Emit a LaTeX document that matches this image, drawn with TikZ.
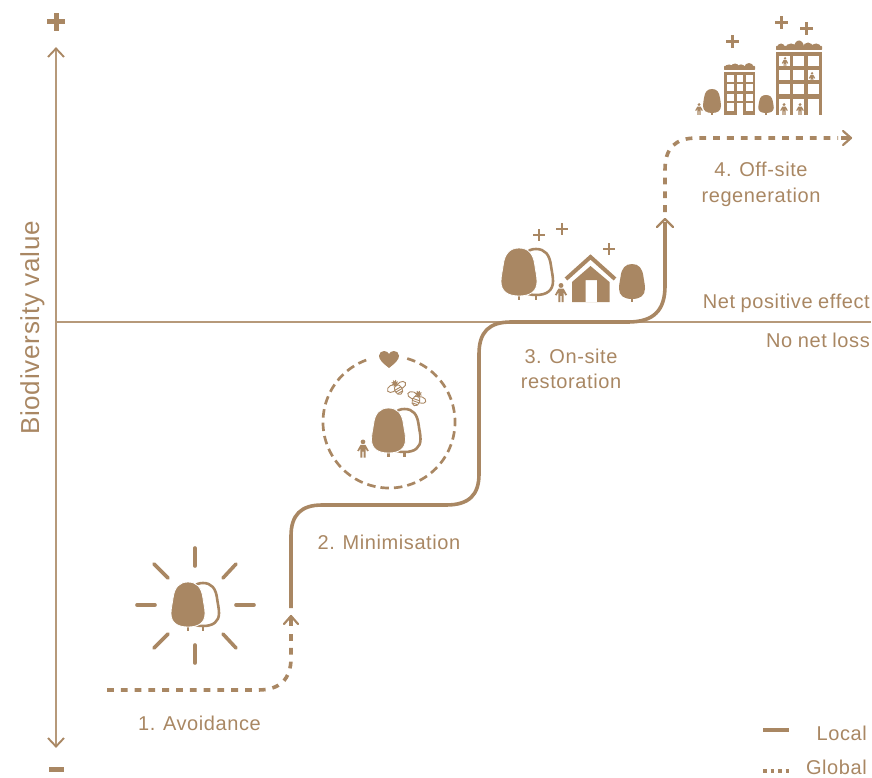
\documentclass[tikz,border=0pt]{standalone}
\usepackage{fontspec}
\setmainfont[LetterSpace=3,WordSpace=0.9]{Liberation Sans}
\definecolor{brand}{HTML}{A98763}
\newcommand{\treepath}{(0,0) .. controls (.26,0) and (.4,.12) .. (.44,.36) .. controls (.46,.48) and (.5,.58) .. (.5,.7) .. controls (.5,.9) and (.32,1) .. (0,1) .. controls (-.32,1) and (-.5,.9) .. (-.5,.7) .. controls (-.5,.58) and (-.46,.48) .. (-.44,.36) .. controls (-.4,.12) and (-.26,0) .. (0,0) -- cycle}
% #1 x centre, #2 top y, #3 width, #4 height, #5 trunk length
\newcommand{\solidtree}[5]{%
  \fill[brand] (#1-1.1,#2+#4-2) rectangle (#1+1.1,#2+#4+#5);
  \fill[brand,shift={(#1,#2)},xscale=#3,yscale=#4] \treepath;}
% pair of trees: front x, top y, width, height, offset
\newcommand{\treepair}[5]{%
  \fill[brand] (#1+#5-1.3,#2+#4-2) rectangle (#1+#5+1.3,#2+#4+4);
  \fill[brand] (#1-1.3,#2+#4-2) rectangle (#1+1.3,#2+#4+4);
  \draw[brand,line width=2.6pt,fill=white] [shift={(#1+#5,#2+1)},xscale=#3-2,yscale=#4-2] \treepath;
  \filldraw[brand,draw=white,line width=.8pt,shift={(#1,#2)},xscale=#3,yscale=#4] \treepath;}
% person: x, top y, height
\newcommand{\person}[3]{%
  \begin{scope}[shift={(#1,#2)},scale=#3]
  \fill[brand] (0,.13) circle[radius=.13];
  \fill[brand] (-.14,.3) -- (.14,.3) -- (.32,.62) -- (.23,.66) -- (.14,.48) -- (.14,1) -- (.03,1) -- (.03,.68) -- (-.03,.68) -- (-.03,1) -- (-.14,1) -- (-.14,.48) -- (-.23,.66) -- (-.32,.62) -- cycle;
  \end{scope}}
% plus: x, y, half-size, width
\newcommand{\plusmark}[4]{%
  \fill[brand] (#1-#3,#2-#4/2) rectangle (#1+#3,#2+#4/2);
  \fill[brand] (#1-#4/2,#2-#3) rectangle (#1+#4/2,#2+#3);}
\newcommand{\beeicon}[3]{%
  \begin{scope}[shift={(#1,#2)},rotate=#3,scale=1.1]
  \draw[brand,line width=.9pt,fill=white] (-4.6,-1) ellipse[x radius=4.6,y radius=3.1];
  \draw[brand,line width=.9pt,fill=white] (4.2,.4) ellipse[x radius=4.4,y radius=2.9];
  \draw[brand,line width=.9pt,fill=white] (0,2.8) ellipse[x radius=3.5,y radius=4.6];
  \draw[brand,line width=.9pt] (-3.2,1.6) -- (3.2,1.6) (-3.4,3.5) -- (3.4,3.5) (-2.2,5.6) -- (2.2,5.6);
  \fill[brand] (0,-3.8) circle[radius=2.1];
  \draw[brand,line width=.9pt] (0,-6.8) -- (0,-.8) (-3,-3.8) -- (3,-3.8) (-2.2,-6) -- (2.2,-1.6) (2.2,-6) -- (-2.2,-1.6);
  \end{scope}}
\tikzset{
  lbl/.style={text=brand,inner sep=0pt,font=\fontsize{20}{20}\selectfont,anchor=base},
  lblr/.style={lbl,anchor=base east},
  localline/.style={draw=brand,line width=3.6pt},
  globalline/.style={draw=brand,line width=3.6pt,dash pattern=on 6.8pt off 7pt},
  tipline/.style={draw=brand,line width=2.2pt,line cap=round,line join=round},
  thinline/.style={draw=brand!85!white,line width=1.8pt},
  ray/.style={draw=brand,line width=3.6pt,line cap=round},
}
\begin{document}
\begin{tikzpicture}[x=1pt,y=-1pt]
\useasboundingbox (0,0) rectangle (872,778);
% axes
\coordinate (axT) at (56,49);
\coordinate (axB) at (56,746);
\coordinate (hL) at (57,322);
\coordinate (hR) at (871,322);
\draw[thinline] (axT) -- (axB);
\draw[thinline] (hL) -- (hR);
\draw[draw=brand,line width=1.9pt,line join=miter] (48,57) -- (56,48.5) -- (64,57);
\draw[draw=brand,line width=1.9pt,line join=miter] (48,738) -- (56,746.5) -- (64,738);
\plusmark{56}{22}{9}{5}
\fill[brand] (49,767) rectangle (64,772);
\node[lbl,rotate=90,font=\fontsize{26}{26}\selectfont] (yl) at (39,328) {Biodiversity value};
% paths
\coordinate (g1s) at (107,690);
\coordinate (g1e) at (291,631);
\draw[globalline] (g1s) -- (258,690) .. controls (280,690) and (291,679) .. (291,658) -- (g1e);
\draw[draw=brand,line width=3.2pt] (291,618) -- (291,626);
\draw[tipline] (284,624) -- (291,616) -- (298,624);
\coordinate (l1s) at (291,608);
\coordinate (l1e) at (665,222);
\draw[localline] (l1s) -- (291,536) .. controls (291,515) and (301,505) .. (322,505) -- (446,505) .. controls (469,505) and (479,495) .. (479,474) -- (479,354) .. controls (479,332) and (489,322) .. (511,322) -- (628,322) .. controls (654,322) and (665,310) .. (665,286) -- (l1e);
\draw[tipline] (657,227) -- (665,219) -- (673,227);
\coordinate (g2s) at (665,212);
\coordinate (g2e) at (838,138);
\draw[globalline] (g2s) -- (665,170) .. controls (665,148) and (675,138) .. (697,138) -- (g2e);
\draw[draw=brand,line width=3.2pt] (841,138) -- (849,138);
\draw[tipline] (843,131) -- (851,138) -- (843,145);
% labels
\node[lbl] (t1) at (199.5,730) {1. Avoidance};
\node[lbl] (t2) at (389,549) {2. Minimisation};
\node[lbl] (t3a) at (571,363) {3. On-site};
\node[lbl] (t3b) at (571,388) {restoration};
\node[lbl] (t4a) at (761,177) {4. Off-site};
\node[lbl] (t4b) at (761,202) {regeneration};
\node[lblr] (tn) at (870,308.5) {Net positive effect};
\node[lblr] (tl) at (870,347.5) {No net loss};
% legend
\coordinate (lg1) at (763,730);
\coordinate (lg2) at (789,730);
\coordinate (lg3) at (763,771);
\coordinate (lg4) at (790,771);
\draw[draw=brand,line width=4pt] (lg1) -- (lg2);
\draw[draw=brand,line width=3.4pt,dash pattern=on 3.6pt off 3.9pt] (lg3) -- (lg4);
\node[lblr] (tloc) at (867,740) {Local};
\node[lblr] (tglo) at (867,774) {Global};
% sun
\foreach \a/\b/\c/\d in {195/548/195/566, 195/645/195/663, 137/605/155/605, 236/605/254/605, 154/564/168/578, 236/564/223/578, 168/634/154/648, 223/634/236/648}
  \draw[ray] (\a,\b) -- (\c,\d);
\treepair{188}{582}{34}{45}{15}
% circle group
\draw[draw=brand,line width=2.7pt,dash pattern=on 8.5pt off 5pt,shift={(389,422)}] (-74:66) arc[start angle=-74,end angle=254,radius=66];
\fill[brand,shift={(389,351)},xscale=20,yscale=17] (0,1) .. controls (-.3,.72) and (-.5,.52) .. (-.5,.28) .. controls (-.5,.1) and (-.37,0) .. (-.25,0) .. controls (-.12,0) and (-.03,.08) .. (0,.18) .. controls (.03,.08) and (.12,0) .. (.25,0) .. controls (.37,0) and (.5,.1) .. (.5,.28) .. controls (.5,.52) and (.3,.72) .. (0,1) -- cycle;
\beeicon{397}{387}{30}
\beeicon{417}{398}{-20}
\treepair{388.5}{408}{34}{45}{16}
\person{363}{439.5}{18}
% restoration group
\treepair{519}{248}{36}{48}{17}
\person{561}{283}{19}
\plusmark{539}{235}{6}{2}
\plusmark{562}{229}{6}{2}
\plusmark{609}{249}{6}{2}
\draw[draw=brand,line width=4pt,line join=miter] (566,279) -- (590.5,257) -- (615,279);
\fill[brand,even odd rule] (590.5,266) -- (609.5,282) -- (609.5,302) -- (572,302) -- (572,282) -- cycle (585.5,280) rectangle (597,302);
\solidtree{632}{264}{26}{35}{3}
% city group
\plusmark{732}{42}{6.5}{3}
\plusmark{781}{23}{6.5}{3}
\plusmark{806}{29}{6.5}{3}
\person{699}{103}{12}
\solidtree{712}{89}{18}{24}{2}
\solidtree{766}{95}{15.5}{18}{2}
% small building
\fill[brand] (724,72) rectangle (755,115);
\foreach \wx in {727,736.5,746}
  \foreach \wy in {75,84.5,94}
    \fill[white] (\wx,\wy) rectangle +(6.5,7);
\fill[white] (727,103.5) rectangle +(6.5,7.5);
\fill[white] (736.5,103.5) rectangle +(6.5,11.5);
\fill[white] (746,103.5) rectangle +(6.5,7.5);
\fill[brand,rounded corners=.6pt] (724,66) rectangle (755,70);
\foreach \bx/\rx/\ry in {729/4/2.5, 735/4/3.5, 741/3.5/2.6, 749/4.5/4}
  \fill[brand] (\bx,67) ellipse[x radius=\rx,y radius=\ry];
\fill[white] (723,70) rectangle (756,72);
% large building
\fill[brand] (776,52) rectangle (822,115);
\foreach \wx in {779,793,807.5}
  \foreach \wy in {56,70,84}
    \fill[white] (\wx,\wy) rectangle +(11,10.5);
\foreach \wx in {779,793,807.5}
  \fill[white] (\wx,99) rectangle +(11,16);
\fill[brand,rounded corners=.6pt] (776,46) rectangle (822,50);
\foreach \bx/\rx/\ry in {781/4/4, 791/5.5/4, 799/5/7, 808/5/5, 816/5/4}
  \fill[brand] (\bx,47.5) ellipse[x radius=\rx,y radius=\ry];
\fill[white] (775,50) rectangle (823,52);
\person{785}{57}{10}
\person{812}{72}{10}
\person{784}{103}{12}
\person{800}{103}{12}
\end{tikzpicture}
\end{document}
